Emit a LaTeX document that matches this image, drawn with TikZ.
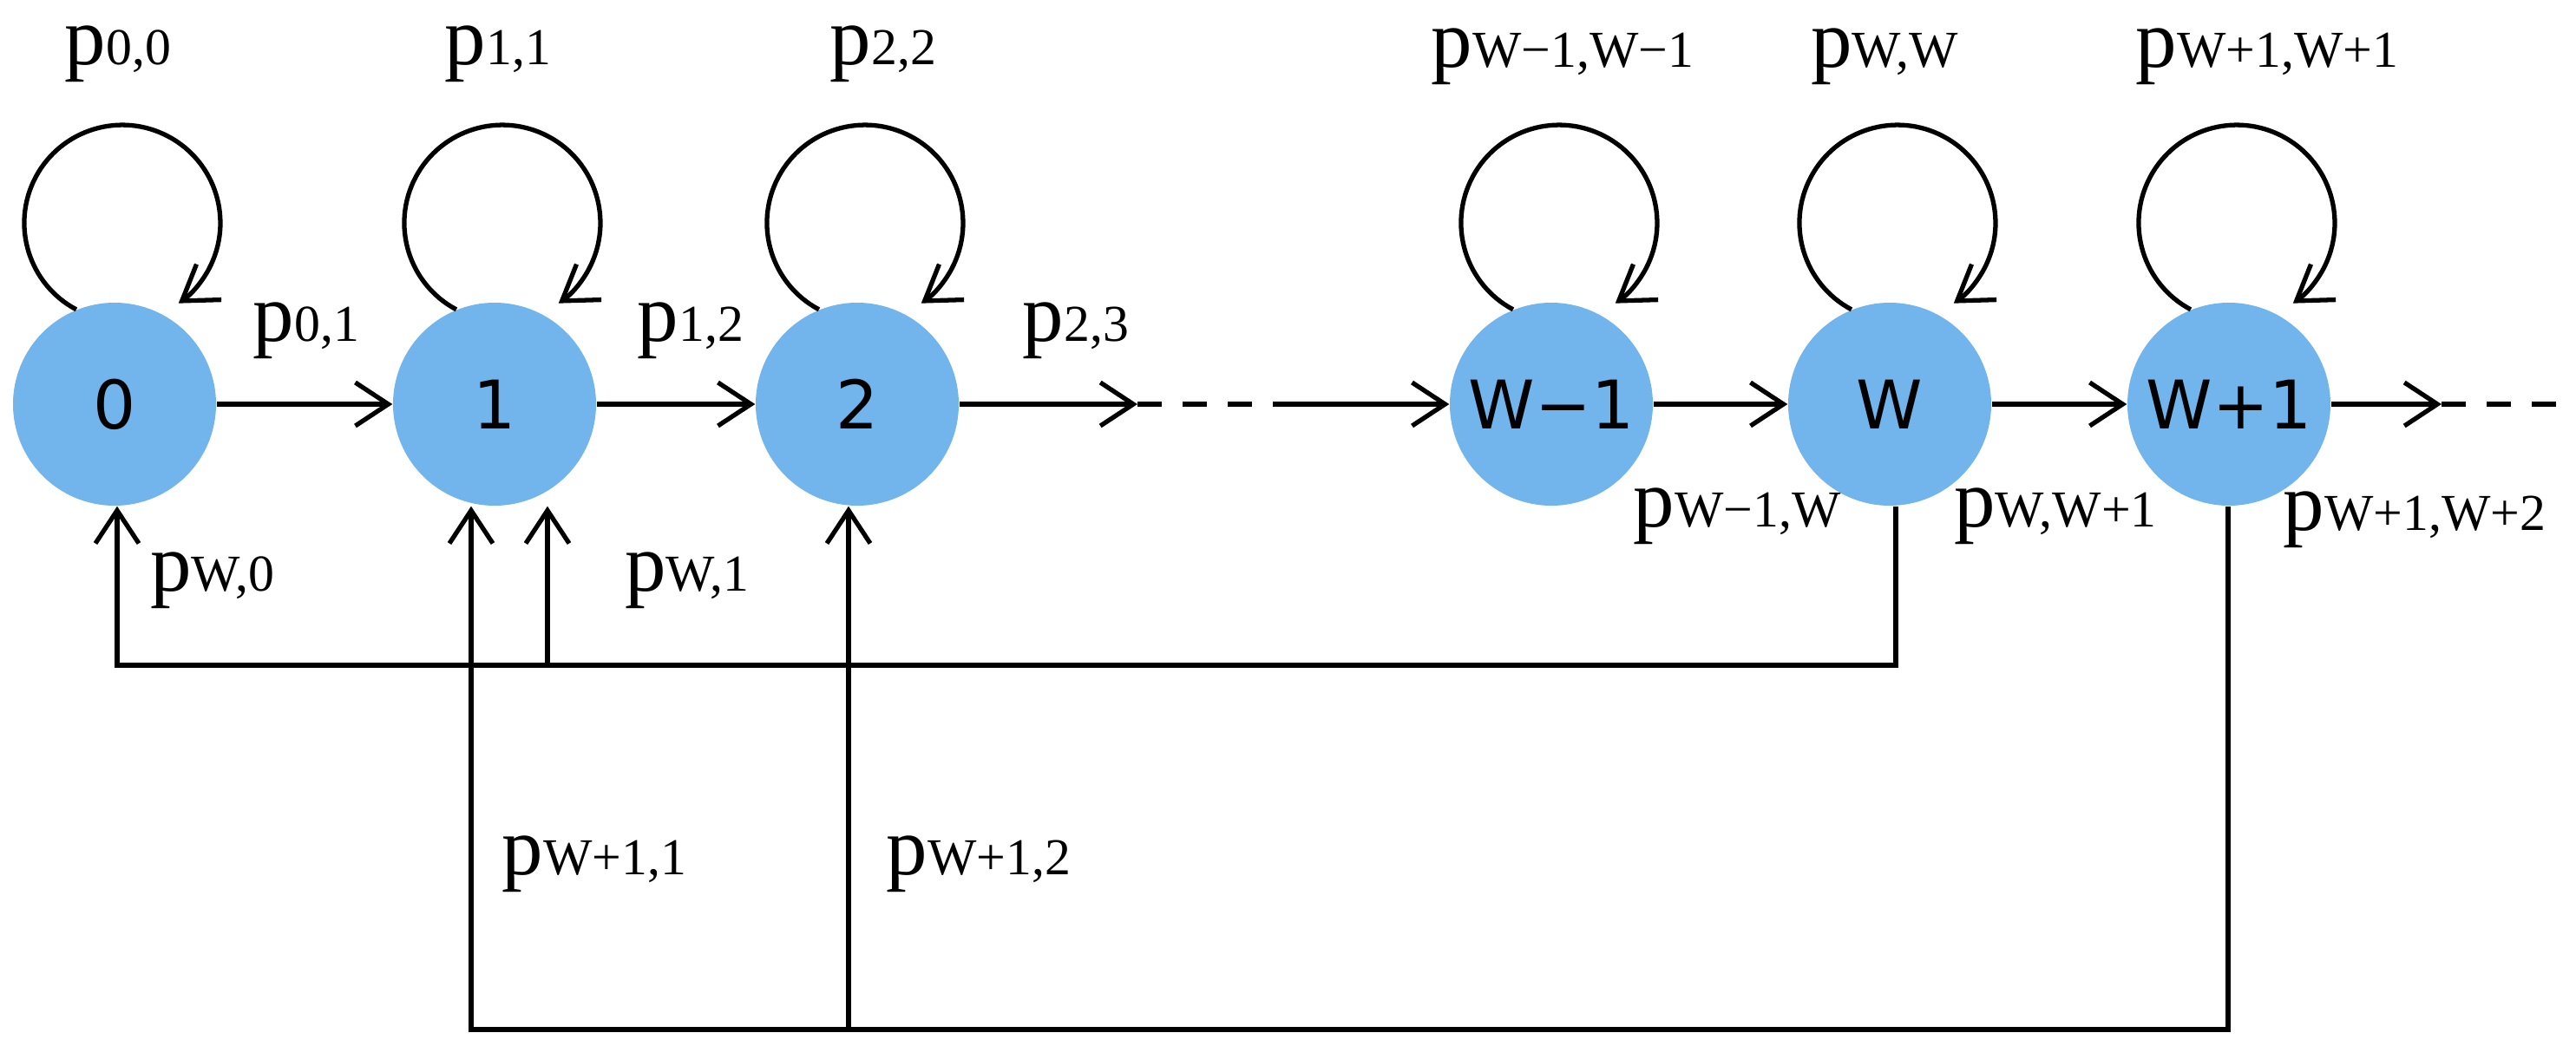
\documentclass[tikz,border=0pt]{standalone}
\usepackage{fontspec}
\setmainfont{Liberation Serif}
\newfontfamily\nodefont{DejaVu Sans}
\usetikzlibrary{arrows.meta}
\definecolor{nodeblue}{HTML}{71B5EC}
\newcommand{\pl}[1]{{\fontsize{27}{27}\selectfont p}{\fontsize{17}{17}\selectfont #1}}
\begin{document}
\begin{tikzpicture}[x=1cm,y=1cm,
  st/.style={circle,fill=nodeblue,minimum size=2.34cm,inner sep=0pt,font=\nodefont\fontsize{22}{22}\selectfont},
  ln/.style={line width=1.5pt},
  arr/.style={ln,-{Straight Barb[length=3.8mm,width=5mm,line width=1.5pt]}},
  dsh/.style={ln,dash pattern=on 2.8mm off 2.4mm},
  lb/.style={inner sep=0pt}]
\useasboundingbox (0,0) rectangle (29.69,12.2);
\node[st] (n0) at (1.32,7.54) {0};
\node[st] (n1) at (5.70,7.54) {1};
\node[st] (n2) at (9.88,7.54) {2};
\node[st] (nw1) at (17.88,7.54) {W−1};
\node[st] (nw) at (21.78,7.54) {W};
\node[st] (nwp) at (25.69,7.54) {W+1};
% self loops
\foreach \n in {n0,n1,n2,nw1,nw,nwp}{
  \draw[arr] (\n.112) arc[start angle=242,end angle=-55,radius=1.13];
}
% forward arrows
\coordinate (d1) at (13.11,7.54);
\coordinate (d2) at (14.82,7.54);
\coordinate (d3) at (28.14,7.54);
\coordinate (d4) at (29.5,7.54);
\draw[arr] (n0) -- (n1);
\draw[arr] (n1) -- (n2);
\draw[arr] (n2) -- (d1);
\draw[dsh] (d1) -- (d2);
\draw[arr] (d2) -- (nw1);
\draw[arr] (nw1) -- (nw);
\draw[arr] (nw) -- (nwp);
\draw[arr] (nwp) -- (d3);
\draw[dsh] (d3) -- (d4);
% back lines level 1
\coordinate (a1) at (21.85,4.53);
\coordinate (a0) at (1.35,4.53);
\coordinate (b1) at (6.31,4.53);
\draw[arr] (nw.south -| a1) -- (a1) -- (a0) -- (a0 |- n0.south);
\draw[arr] (b1) -- (b1 |- n1.south);
% back lines level 2
\coordinate (c0) at (25.68,0.33);
\coordinate (c1) at (5.43,0.33);
\coordinate (c2) at (9.78,0.33);
\draw[arr] (nwp.south -| c0) -- (c0) -- (c1) -- (c1 |- n1.south);
\draw[arr] (c2) -- (c2 |- n2.south);
% labels
\node[lb] (l00) at (1.36,11.58) {\pl{0,0}};
\node[lb] (l11) at (5.74,11.58) {\pl{1,1}};
\node[lb] (l22) at (10.18,11.58) {\pl{2,2}};
\node[lb] (lw1w1) at (18.01,11.55) {\pl{W−1,W−1}};
\node[lb] (lww) at (21.72,11.55) {\pl{W,W}};
\node[lb] (lwpwp) at (26.13,11.55) {\pl{W+1,W+1}};
\node[lb] (l01) at (3.53,8.39) {\pl{0,1}};
\node[lb] (l12) at (7.96,8.39) {\pl{1,2}};
\node[lb] (l23) at (12.40,8.39) {\pl{2,3}};
\node[lb] (lw0) at (2.45,5.51) {\pl{W,0}};
\node[lb] (lw1) at (7.92,5.51) {\pl{W,1}};
\node[lb] (lwp1) at (6.85,2.24) {\pl{W+1,1}};
\node[lb] (lwp2) at (11.28,2.24) {\pl{W+1,2}};
\node[lb] (lw1w) at (20.02,6.25) {\pl{W−1,W}};
\node[lb] (lwwp) at (23.69,6.25) {\pl{W,W+1}};
\node[lb] (lwpwp2) at (27.83,6.21) {\pl{W+1,W+2}};
\end{tikzpicture}
\end{document}
